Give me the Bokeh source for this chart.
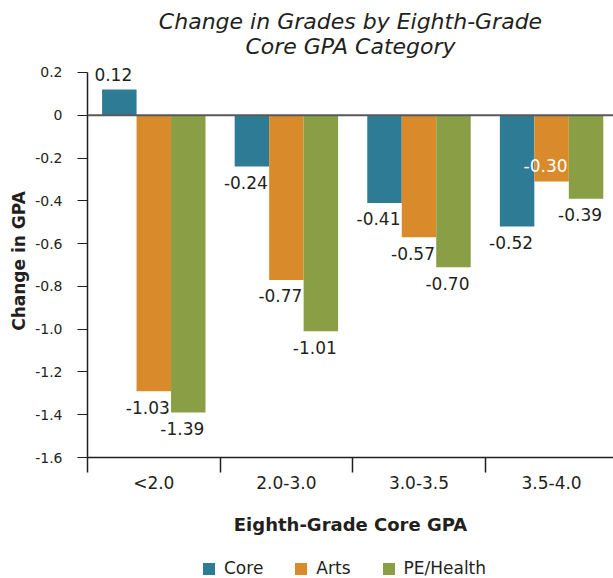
from bokeh.plotting import figure
from bokeh.layouts import column
from bokeh.models import (ColumnDataSource, FixedTicker, LinearAxis, Range1d, Span,
                          Legend, LegendItem)
from bokeh.core.properties import value
from bokeh.embed import file_html
from bokeh.resources import INLINE

# ---------------- data ----------------
categories = ["<2.0", "2.0-3.0", "3.0-3.5", "3.5-4.0"]
series_names = ["Core", "Arts", "PE/Health"]
core_values = [0.12, -0.24, -0.41, -0.52]
arts_values = [-1.29, -0.77, -0.57, -0.31]
pe_values = [-1.39, -1.01, -0.71, -0.39]
core_labels = ["0.12", "-0.24", "-0.41", "-0.52"]
arts_labels = ["-1.03", "-0.77", "-0.57", "-0.30"]
pe_labels = ["-1.39", "-1.01", "-0.70", "-0.39"]
y_ticks = [0.2, 0.0, -0.2, -0.4, -0.6, -0.8, -1.0, -1.2, -1.4, -1.6]
y_tick_labels = ["0.2", "0", "-0.2", "-0.4", "-0.6", "-0.8", "-1.0", "-1.2", "-1.4", "-1.6"]
title_text = "Change in Grades by Eighth-Grade\nCore GPA Category"

# ---------------- style ----------------
FONT = "DejaVu Sans"
TEXT = "#231f20"
colors = ["#2d7b95", "#d98a2b", "#8a9f45"]
bar_w = 0.26
offsets = [-0.26, 0.0, 0.26]
inside_labels = {("3.5-4.0", "Arts")}

p = figure(width=613, height=548,
           x_range=Range1d(0, 3.967), y_range=Range1d(-1.6, 0.2374),
           x_axis_type=None, y_axis_type=None,
           output_backend="svg", toolbar_location=None,
           min_border_left=87, min_border_right=0, min_border_top=64, min_border_bottom=91,
           title=title_text)
p.outline_line_color = None
p.background_fill_color = "white"
p.border_fill_color = "white"

p.title.align = "center"
p.title.text_align = "center"
p.title.vertical_align = "top"
p.title.text_font = FONT
p.title.text_font_style = "italic"
p.title.text_font_size = "22px"
p.title.text_color = TEXT
p.title.standoff = 7

# axes
yaxis = LinearAxis(ticker=FixedTicker(ticks=y_ticks, minor_ticks=[]),
                   major_label_overrides={t: l for t, l in zip(y_ticks, y_tick_labels)},
                   axis_label="Change in GPA", bounds=(min(y_ticks), max(y_ticks)))
yaxis.axis_line_color = TEXT
yaxis.axis_line_width = 1.5
yaxis.major_tick_line_color = TEXT
yaxis.major_tick_out = 10
yaxis.major_tick_in = 0
yaxis.minor_tick_line_color = None
yaxis.major_label_standoff = 15
yaxis.major_label_text_font = FONT
yaxis.major_label_text_font_size = "14px"
yaxis.major_label_text_color = TEXT
yaxis.axis_label_text_font = FONT
yaxis.axis_label_text_font_size = "17px"
yaxis.axis_label_text_font_style = "bold"
yaxis.axis_label_text_color = TEXT
yaxis.axis_label_standoff = 3
p.add_layout(yaxis, "left")

xcenters = [i + 0.5 for i in range(len(categories))]
xaxis = LinearAxis(ticker=FixedTicker(ticks=xcenters, minor_ticks=list(range(len(categories) + 1))),
                   major_label_overrides={c: l for c, l in zip(xcenters, categories)},
                   axis_label="Eighth-Grade Core GPA")
xaxis.axis_line_color = TEXT
xaxis.axis_line_width = 1.5
xaxis.major_tick_line_color = None
xaxis.major_tick_out = 0
xaxis.major_tick_in = 0
xaxis.minor_tick_line_color = TEXT
xaxis.minor_tick_line_width = 1.5
xaxis.minor_tick_out = 15
xaxis.minor_tick_in = 0
xaxis.major_label_standoff = 0
xaxis.major_label_text_font = FONT
xaxis.major_label_text_font_size = "17px"
xaxis.major_label_text_color = TEXT
xaxis.axis_label_text_font = FONT
xaxis.axis_label_text_font_size = "18px"
xaxis.axis_label_text_font_style = "bold"
xaxis.axis_label_text_color = TEXT
xaxis.axis_label_standoff = 18
p.add_layout(xaxis, "below")

# grid
p.ygrid.ticker = FixedTicker(ticks=y_ticks)
p.ygrid.grid_line_color = "#d9d9d9"
p.ygrid.grid_line_width = 1.2

# bars + labels
all_values = [core_values, arts_values, pe_values]
all_labels = [core_labels, arts_labels, pe_labels]
lx, ly, ltext, lcol, lyoff = [], [], [], [], []
for s, (name, vals, labs) in enumerate(zip(series_names, all_values, all_labels)):
    xs = [c + offsets[s] for c in xcenters]
    src = ColumnDataSource(dict(x=xs, top=vals))
    p.vbar(x="x", top="top", bottom=0, width=bar_w, source=src,
           fill_color=colors[s], line_color=None)
    for cat, x, v, lab in zip(categories, xs, vals, labs):
        inside = (cat, name) in inside_labels
        lx.append(x)
        ly.append(v)
        ltext.append(lab)
        lcol.append("white" if inside else TEXT)
        if v >= 0:
            lyoff.append(-15)
        else:
            lyoff.append(-16 if inside else 16)

p.add_layout(Span(location=0, dimension="width", line_color="#58595b", line_width=2))

lsrc = ColumnDataSource(dict(x=lx, y=ly, text=ltext, color=lcol, yoff=lyoff))
p.text(x="x", y="y", text="text", source=lsrc, text_color="color",
       x_offset=-6, y_offset="yoff", text_align="center", text_baseline="middle",
       text_font=value(FONT), text_font_size="17px")

# ---------------- legend strip ----------------
lg = figure(width=613, height=30, x_range=Range1d(0, 1), y_range=Range1d(0, 1),
            x_axis_type=None, y_axis_type=None, output_backend="svg", toolbar_location=None,
            min_border=0)
lg.outline_line_color = None
lg.grid.visible = False
items = []
for name, col in zip(series_names, colors):
    # swatch-only renderer placed outside the visible range
    r = lg.vbar(x=[-10], top=[0], width=0.1, fill_color=col, line_color=None)
    items.append(LegendItem(label=name, renderers=[r]))
legend = Legend(items=items, orientation="horizontal", location=(114, 0))
legend.glyph_width = 15
legend.glyph_height = 15
legend.label_standoff = 8
legend.spacing = 30
legend.padding = 2
legend.margin = 0
legend.border_line_color = None
legend.background_fill_alpha = 0
legend.label_text_font = FONT
legend.label_text_font_size = "17px"
legend.label_text_color = TEXT
lg.add_layout(legend, "center")

layout = column(p, lg, spacing=0)
open("out.html", "w").write(file_html(layout, INLINE))
